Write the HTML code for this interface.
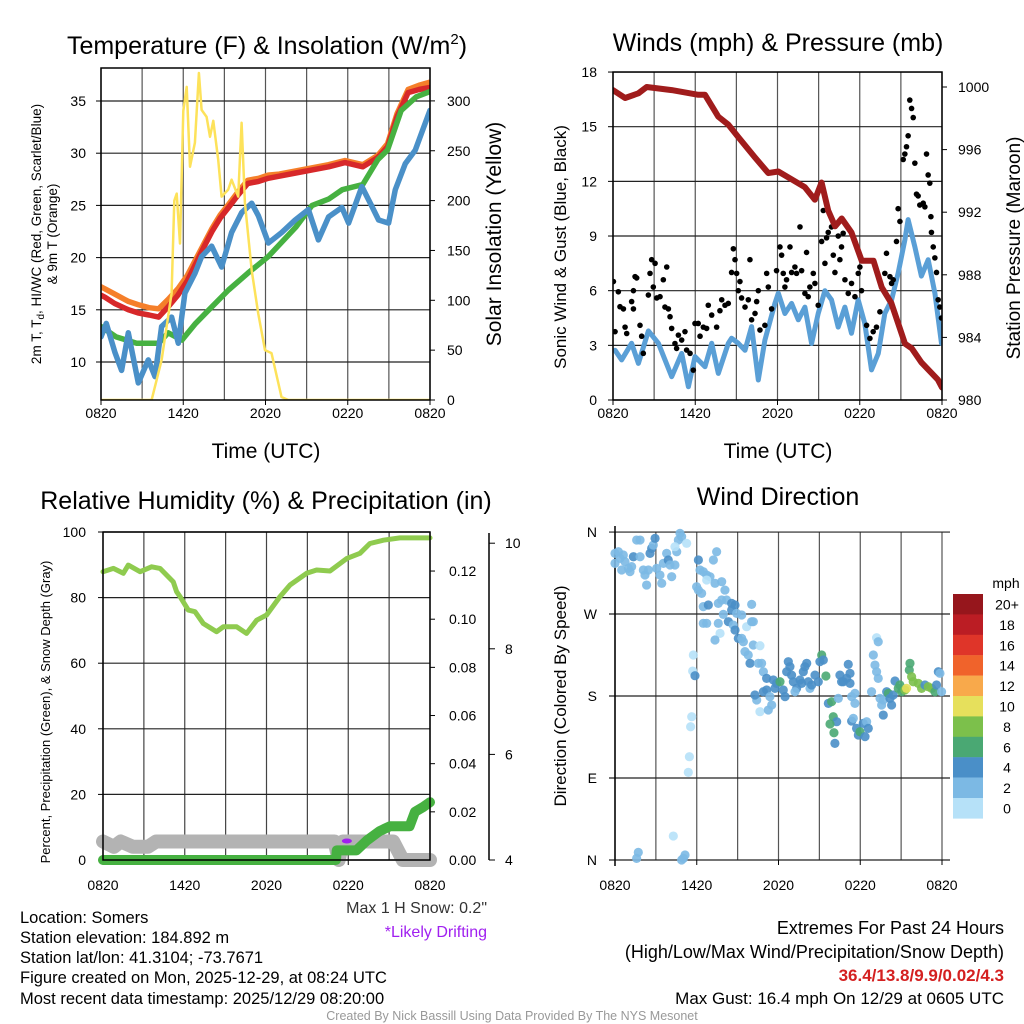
<!DOCTYPE html>
<html><head><meta charset="utf-8">
<style>
html,body{margin:0;padding:0;background:#fff;}
svg{display:block;font-family:"Liberation Sans",Arial,sans-serif;}
</style></head>
<body>
<svg id="chart" width="1024" height="1024" viewBox="0 0 1024 1024" xmlns="http://www.w3.org/2000/svg">
<defs>
<clipPath id="c1"><rect x="101" y="68" width="329" height="332"/></clipPath>
<clipPath id="c2"><rect x="613" y="72" width="329" height="328"/></clipPath>
<clipPath id="c3"><rect x="96" y="525" width="345" height="345"/></clipPath>
<clipPath id="c4"><rect x="608" y="526" width="342" height="340"/></clipPath>
</defs>
<g id="g1"></g>
<g id="g2"></g>
<g id="g3"></g>
<g id="g4"></g>
<g id="gt">
<text x="20" y="923" font-size="16.5">Location: Somers</text>
<text x="20" y="943" font-size="16.5">Station elevation: 184.892 m</text>
<text x="20" y="963" font-size="16.5">Station lat/lon: 41.3104; -73.7671</text>
<text x="20" y="983" font-size="16.5">Figure created on Mon, 2025-12-29, at 08:24 UTC</text>
<text x="20" y="1004" font-size="16.5">Most recent data timestamp: 2025/12/29 08:20:00</text>
<text x="487" y="913" font-size="16" text-anchor="end" fill="#333">Max 1 H Snow: 0.2"</text>
<text x="487" y="937" font-size="16" text-anchor="end" fill="#a020f0">*Likely Drifting</text>
<text x="1004" y="934" font-size="18" text-anchor="end">Extremes For Past 24 Hours</text>
<text x="1004" y="958" font-size="18" text-anchor="end">(High/Low/Max Wind/Precipitation/Snow Depth)</text>
<text x="1004" y="981" font-size="17" text-anchor="end" fill="#d42020" font-weight="bold">36.4/13.8/9.9/0.02/4.3</text>
<text x="1004" y="1004" font-size="17" text-anchor="end">Max Gust: 16.4 mph On 12/29 at 0605 UTC</text>
<text x="512" y="1020" font-size="12.5" text-anchor="middle" fill="#999">Created By Nick Bassill Using Data Provided By The NYS Mesonet</text>
</g>
</svg>
<script>
// ---------- Panel 1 data ----------
const tempTimes = [0,0.3,1,2,2.7,3.5,4.2,4.9,5.6,6.3,6.9,7.5,8.1,8.7,9.3,10,10.7,11.5,12.2,13,14.2,15.4,16.6,17.8,19.1,20.2,20.9,21.6,22.4,23.2,24];
const tempRed = [16.4,16.2,15.6,15,14.7,14.5,14.3,15.3,16.4,17.8,19.4,21,22.5,23.8,24.8,26,27.1,27.3,27.6,27.8,28.1,28.4,28.7,29.1,28.7,29.6,30.6,33.5,35.8,36.1,36.3];
const tempOrange = [17.2,17,16.5,15.8,15.5,15.2,15.1,16.0,17.0,18.3,19.8,21.3,22.8,24.1,25.1,26.3,27.4,27.6,27.9,28.0,28.3,28.6,28.9,29.3,28.9,29.8,30.9,33.8,36.1,36.5,36.8];
const greenTimes = [0,1.1,2.6,4.2,4.9,5.9,6.9,8.1,9.3,10.7,12.2,14.2,15.4,16.6,17.6,19.1,20.2,20.9,21.9,23,24];
const tempGreen = [13.4,12.4,11.8,11.8,12.8,12.1,13.7,15.3,16.9,18.5,20.1,22.9,25,25.6,26.5,27,29.4,30.3,34.1,35.4,35.9];
const blueTimes = [0,0.39,1.02,1.5,1.99,2.72,3.45,3.94,4.42,5.15,5.64,6.12,6.86,7.34,8.07,8.8,9.53,10.26,10.99,11.48,12.21,13.18,14.16,15.13,15.86,16.6,17.57,18.06,19.03,19.76,20.25,20.98,21.47,22.2,22.93,23.66,24];
const tempBlue = [12.4,13.7,10.9,9.2,12.8,8,10.2,8.6,13.4,14.3,11.8,16.6,18.5,20.1,21.1,19.1,22.4,24.3,25.2,24,21.4,22.4,23.6,24.6,21.7,23.9,24.8,23.3,26.8,24.9,23.6,23.3,26.5,29,30.3,32.9,34.1];
const solarTimes = [0,3.69,4.42,5.15,5.35,5.52,5.76,6.0,6.25,6.49,6.85,7.14,7.34,7.7,7.95,8.19,8.55,8.8,9.28,9.53,10.01,10.26,10.5,10.99,11.47,11.96,12.44,13.17,13.66,24];
const solarVals = [0,0,40,107,200,207,157,290,314,234,258,328,291,284,264,280,241,204,211,221,204,278,198,130,87,50,47,3,0,0];
const tempTicks = [10,15,20,25,30,35];
const solarTicks = [0,50,100,150,200,250,300];
const timeTickHours = [0,6,12,18,24];
const timeTickLabels = ["0820","1420","2020","0220","0820"];

// ---------- Panel 2 data ----------
const presTimes = [0,0.88,1.85,2.46,4.28,6.22,6.71,7.68,8.41,9.14,10.35,11.33,12.06,13.03,14,14.73,15.22,15.7,16.2,16.68,17.4,18.14,19,19.6,20.3,21.3,21.8,22.5,23.7,24];
const presVals = [999.8,999.3,999.6,1000,999.8,999.5,999.5,998.1,997.6,996.8,995.5,994.5,994.6,994.1,993.6,992.8,993.9,992.1,991.1,991.6,990.7,988.9,988.9,987.2,986.2,983.6,983.3,982.4,981.3,980.8];
const windTimes = [0.15,0.63,1.36,1.85,2.58,3.31,4.28,5.01,5.5,5.98,6.71,7.2,7.68,8.41,8.65,9.14,9.63,10.11,10.6,11.08,11.81,12.06,12.54,13.03,13.52,14,14.49,14.97,15.46,15.94,16.43,16.92,17.4,17.89,18.37,18.86,19.35,19.83,20.32,20.8,21.29,21.53,22.02,22.5,22.99,23.48,23.96];
const windVals = [2.73,2.2,3.11,2.01,3.79,3.11,1.28,2.56,0.73,2.38,1.83,3.11,1.46,3.11,3.39,3.11,2.73,4.03,1.1,3.29,5.3,5.86,4.75,5.3,4.4,5.1,3.1,4.75,6.0,5.5,4.0,5.1,3.66,5.5,4.2,1.65,2.56,4.75,5.5,6.95,8.8,9.9,8.4,6.8,7.7,5.86,3.1];
const gustTimes = [0.03,0.15,0.39,0.51,0.76,0.88,1.0,1.36,1.49,1.61,1.73,1.49,1.97,2.09,2.21,2.58,2.7,2.82,3.07,2.94,3.19,3.43,3.67,3.79,3.92,4.04,4.16,4.28,4.52,4.64,4.77,5.01,5.25,5.37,5.62,5.86,5.98,6.22,6.35,6.59,6.83,6.95,7.2,7.56,7.8,7.93,8.17,8.41,8.65,8.78,8.9,9.02,9.14,9.26,9.38,9.63,9.87,9.99,10.11,10.36,10.48,10.6,10.72,11.08,11.21,11.33,11.57,11.93,12.18,12.3,12.42,12.54,12.66,12.91,13.03,13.27,13.39,13.64,13.76,14.0,14.12,14.24,14.36,14.61,14.73,14.97,15.22,15.34,15.46,15.58,15.7,15.94,16.07,16.19,16.43,16.55,16.67,16.79,16.92,17.16,17.4,17.65,17.89,18.01,18.13,18.5,18.74,18.98,19.22,19.47,19.83,19.95,20.2,20.32,20.44,20.68,20.8,20.93,21.17,21.29,21.41,21.53,21.65,21.78,21.9,22.02,22.14,22.26,22.38,22.63,22.75,22.87,22.99,23.11,23.19,23.23,23.36,23.48,23.6,23.72,23.84,23.96];
const gustVals = [6.5,3.75,5.94,5.12,5.0,4.0,3.65,5.4,5.0,6.77,6.7,6.0,4.1,3.5,2.56,5.76,6.95,7.7,7.5,6.2,5.6,5.67,6.6,5.1,7.3,5.0,4.57,3.93,3.1,2.83,3.56,3.29,3.75,2.74,2.56,1.64,4.2,4.2,3.5,4.0,3.93,5.2,4.66,4.0,4.9,5.5,5.2,5.3,7.0,8.3,7.7,6.95,6.0,6.5,5.6,5.1,5.5,7.7,4.4,4.75,5.4,6.0,3.84,4.1,6.95,6.2,5.0,7.1,8.4,7.95,6.95,6.2,6.6,8.4,7.0,7.3,6.95,9.5,7.1,5.85,8.1,5.67,6.2,6.95,6.4,5.2,8.7,10.4,7.5,8.9,9.2,9.5,7.95,7.0,9.0,7.7,8.4,9.15,6.6,5.85,6.4,5.67,6.95,7.3,6.0,4.1,3.38,3.75,4.0,4.84,6.95,8.05,6.77,6.4,6.6,8.7,10.5,9.8,13.2,13.5,13.9,14.5,16.46,16.0,15.5,13.0,11.3,11.2,10.7,10.8,10.6,13.5,12.35,11.9,10.06,9.2,8.4,7.8,7.0,5.5,5.1,4.5];
const windTicks = [0,3,6,9,12,15,18];
const presTicks = [980,984,988,992,996,1000];

// ---------- Panel 3 data ----------
const rhTimes = [0,0.76,1.49,1.86,2.72,3.57,4.18,5.16,5.4,5.65,6.26,6.75,7.36,8.34,8.83,9.81,10.54,11.28,12.01,12.99,13.72,14.94,15.68,16.66,17.88,18.86,19.59,20.57,21.79,24];
const rhVals = [87.9,88.9,87.4,89.9,87.9,89.4,88.9,84.8,81.8,80.3,76.2,75.7,72.1,69.6,71.1,71.1,69.1,73.1,74.7,80.3,83.8,87.4,88.4,88.1,91.9,93.5,96.5,97.5,98.2,98.2];
const precipTimes = [0,17.1,17.15,17.64,18.6,19.35,20.3,21.06,22.5,22.9,23.5,24];
const precipVals = [0,0,0.004,0.004,0.004,0.008,0.012,0.014,0.014,0.02,0.022,0.024];
const snowTimes = [0,0.8,1.3,2.2,3.3,3.9,17.0,17.3,17.6,17.9,21.3,22.0,24];
const snowVals = [4.35,4.25,4.35,4.25,4.25,4.35,4.35,4.0,4.35,4.35,4.35,4.0,4.0];
const driftTimes = [17.9];
const driftVals = [4.36];
const rhTicks = [0,20,40,60,80,100];
const precipTicks = [0,0.02,0.04,0.06,0.08,0.10,0.12];
const precipTickLabels = ["0.00","0.02","0.04","0.06","0.08","0.10","0.12"];
const snowTicks = [4,6,8,10];

// ---------- Panel 4 data ----------
const dirTimes = [0,0,0.25,0.37,0.49,0.61,0.73,0.98,1.1,1.22,1.35,1.59,1.84,1.84,2.08,2.2,2.32,2.45,2.57,2.69,2.81,2.94,3.06,3.3,3.43,3.55,3.79,3.91,4.04,4.16,4.4,4.53,4.65,4.77,4.89,4.4,5.26,6.12,6.24,6.48,6.73,6.97,6.73,7.34,7.46,7.22,5.99,6.12,6.36,7.83,8.07,6.48,6.85,7.58,7.83,8.19,8.56,8.81,8.56,8.93,9.3,10.03,7.95,8.32,8.68,8.81,6.48,6.73,7.58,7.71,7.34,9.66,10.03,10.15,9.05,9.3,9.42,9.54,10.15,9.78,9.91,10.52,10.64,10.76,10.89,11.13,11.62,11.74,11.13,11.86,12.11,12.35,12.48,12.72,12.84,12.6,12.96,13.09,13.33,13.58,13.7,13.82,13.94,14.07,14.19,14.31,14.43,14.68,14.92,15.04,15.17,15.29,15.48,16.51,16.63,16.76,17.0,17.12,17.25,17.25,10.4,10.27,10.64,11.25,11.5,10.89,11.37,13.21,15.66,15.9,16.39,17.37,17.61,17.61,16.02,16.27,15.78,16.07,16.14,17.37,17.49,17.73,17.86,17.98,18.22,18.47,18.59,18.35,18.83,18.96,19.08,19.2,19.32,19.2,19.32,19.45,19.69,19.57,19.69,19.94,20.06,20.18,20.3,20.42,20.55,20.79,20.91,21.04,21.28,21.4,21.65,21.6,21.77,21.89,22.26,22.5,22.75,22.99,23.24,23.48,23.6,23.73,23.85,23.97,5.75,5.7,5.87,5.63,5.55,5.46,5.38,4.28,1.71,1.59,4.89,5.14,5.02];
const dirDegs = [336.6,325.6,338.4,331.1,318.3,334.8,327.5,320.1,316.5,322,332.9,351.2,351.2,332.9,318.3,312.8,301.8,318.3,336.6,342.1,345.7,353.1,320.1,312.8,303.7,325.6,336.6,329.3,323.8,311,323.8,338.4,351.2,358.6,354.9,343.9,347.6,329.3,318.3,316.5,312.8,311,307.3,303.7,338.4,329.3,300,296.3,292.7,305.5,296.3,278.1,279.9,281.7,285.4,285.4,281.7,279.9,274.4,270.7,268.9,280.6,269.6,261.6,257.9,252.4,259.8,259.8,259.8,248.8,241.5,256.1,261.6,261.6,243.3,243.3,239.6,228.7,236,225,215.9,215.9,235.2,215.9,206.7,199.4,197.6,188.4,186.6,193.9,195.7,186.6,179.3,217.7,212.2,206.7,203,195.7,188.4,197.6,193.9,206.7,212.2,215.9,195.7,188.4,192.1,203,195.7,217.7,225,219.5,202,203,195.7,195.7,199.4,214.7,204.9,193.9,175.6,181.1,162.8,164.6,170.1,184.7,179.3,184.7,171.9,173.8,177.4,179.3,182.9,171.9,157.3,151.8,149.3,139.7,128,152.5,155.5,144.5,137.2,140.8,150,151.8,144.5,135.4,184.7,225,214,206.7,199.4,244,239.6,177.4,175.6,170.1,159.1,184.7,182.9,177.4,170.1,181.1,196.5,188.4,192.1,184.7,186.6,188.4,215.9,208.5,201.2,195.7,193.9,188.4,192.1,190.2,188.4,184.7,192.1,206.7,204.9,184.7,225,207.4,202.3,157.3,146.3,113.4,96.2,26.3,8.4,1.8,0,5.5,1.8];
const dirSpeeds = [2,2,2,2,2,2,2,2,2,2,4,2,2,2,2,2,2,2,4,4,2,4,2,2,2,2,2,4,2,2,2,2,2,2,2,0,0,4,2,2,2,2,0,2,2,2,2,2,2,2,2,2,4,2,2,2,4,4,4,2,2,2,2,4,2,4,2,2,2,0,2,0,2,2,4,2,2,2,2,2,4,2,0,2,2,4,4,4,4,4,6,4,4,4,4,4,4,4,4,4,4,4,4,4,4,2,4,4,4,4,6,4,6,4,4,4,4,4,4,4,2,4,0,2,2,4,2,2,4,6,2,2,2,2,6,4,6,6,4,4,2,4,4,6,4,2,4,4,2,2,2,2,2,0,2,2,2,2,4,4,6,4,4,4,4,6,6,6,8,10,6,6,8,8,8,8,4,8,8,6,4,4,2,2,0,0,4,0,0,0,0,0,2,2,2,2,2];
const dirTicks = [0,90,180,270,360];
const dirTickLabels = ["N","E","S","W","N"];
const cbarLabels = ["20+","18","16","14","12","10","8","6","4","2","0"];
const cbarColors = ["#96161c","#bb1d24","#df3529","#f0632b","#f8a94b","#e6e05c","#7cc04b","#4aa873","#4a8fc8","#7cb9e4","#b6e1f8"];

// ---------- helpers ----------
const NS = "http://www.w3.org/2000/svg";
function mk(parent, tag, attrs){
  const e = document.createElementNS(NS, tag);
  for (const k in attrs) e.setAttribute(k, attrs[k]);
  parent.appendChild(e);
  return e;
}
function txt(parent, x, y, s, size, anchor, extra){
  const e = mk(parent, "text", Object.assign({x:x, y:y, "font-size":size, "text-anchor":anchor||"start"}, extra||{}));
  e.textContent = s;
  return e;
}
function linePath(times, vals, xf, yf){
  let d = "";
  for (let i=0;i<times.length;i++){ d += (i?"L":"M") + xf(times[i]).toFixed(1) + "," + yf(vals[i]).toFixed(1); }
  return d;
}

// ---------- Panel 1 ----------
(function(){
  const g = document.getElementById("g1");
  const X0=101, X1=430, Y0=68, Y1=400;
  const xS = t => X0 + t*(X1-X0)/24;
  const yT = v => 362 - (v-10)*10.44;
  const yS = v => 400 - v*0.997;
  for (let h=0; h<=24; h+=3){
    const l = mk(g,"line",{x1:xS(h),x2:xS(h),y1:Y0,y2:Y1,stroke:"#555","stroke-width":1.2});
    
    
  }
  tempTicks.forEach(v=>{
    const l = mk(g,"line",{x1:X0,x2:X1,y1:yT(v),y2:yT(v),stroke:"#222","stroke-width":1.2});
    
    
    mk(g,"line",{x1:X0-5,x2:X0,y1:yT(v),y2:yT(v),stroke:"#000"});
    const t = txt(g, 86, yT(v)+5, String(v), 14, "end");
    
    
  });
  solarTicks.forEach(v=>{
    mk(g,"line",{x1:X1,x2:X1+5,y1:yS(v),y2:yS(v),stroke:"#000"});
    const t = txt(g, 447, yS(v)+5, String(v), 14, "start");
    
    
  });
  timeTickHours.forEach((h,i)=>{
    mk(g,"line",{x1:xS(h),x2:xS(h),y1:Y1,y2:Y1+5,stroke:"#000"});
    const t = txt(g, xS(h), 418, timeTickLabels[i], 14, "middle");
    
    
  });
  const cg = mk(g,"g",{"clip-path":"url(#c1)"});
  const series = [
    [tempTimes,tempOrange,"#f57f2a","orange-9m-temp-line"],
    [tempTimes,tempRed,"#d7282a","red-2m-temp-line"],
    [greenTimes,tempGreen,"#46b141","green-hiwc-line"],
    [blueTimes,tempBlue,"#4a90c8","blue-dewpoint-line"]
  ];
  series.forEach(s=>{
    const p = mk(cg,"path",{d:linePath(s[0],s[1],xS,yT),fill:"none",stroke:s[2],"stroke-width":5.5,"stroke-linejoin":"round","stroke-linecap":"round"});
    
    
  });
  const sp = mk(cg,"path",{d:linePath(solarTimes,solarVals,xS,yS),fill:"none",stroke:"#fde25a","stroke-width":2.5,"stroke-linejoin":"round"});
  
  
  mk(g,"rect",{x:X0,y:Y0,width:X1-X0,height:Y1-Y0,fill:"none",stroke:"#000","stroke-width":1.5});
  const ti = mk(g,"text",{x:267,y:54,"font-size":25,"text-anchor":"middle"});
  ti.innerHTML = 'Temperature (F) &amp; Insolation (W/m<tspan font-size="15" dy="-10">2</tspan><tspan dy="10">)</tspan>';
  
  
  const xl = txt(g, 266, 458, "Time (UTC)", 21, "middle");
  
  
  const yl = mk(g,"text",{transform:"translate(41,234) rotate(-90)","font-size":13.5,"text-anchor":"middle"});
  yl.innerHTML = '2m T, T<tspan font-size="10" dy="3">d</tspan><tspan dy="-3">, HI/WC (Red, Green, Scarlet/Blue)</tspan>';
  
  
  const yl2 = txt(g,0,0,"& 9m T (Orange)",13.5,"middle",{transform:"translate(57,234) rotate(-90)"});
  
  
  const yr = txt(g,0,0,"Solar Insolation (Yellow)",21,"middle",{transform:"translate(501,234) rotate(-90)"});
  
  
})();

// ---------- Panel 2 ----------
(function(){
  const g = document.getElementById("g2");
  const X0=613, X1=942, Y0=72, Y1=400;
  const xS = t => X0 + t*(X1-X0)/24;
  const yW = v => 400 - v*18.22;
  const yP = v => 400 - (v-980)*15.65;
  for (let h=0; h<=24; h+=3){
    const l = mk(g,"line",{x1:xS(h),x2:xS(h),y1:Y0,y2:Y1,stroke:"#555","stroke-width":1.2});
    
    
  }
  windTicks.forEach(v=>{
    const l = mk(g,"line",{x1:X0,x2:X1,y1:yW(v),y2:yW(v),stroke:"#222","stroke-width":1.2});
    
    
    mk(g,"line",{x1:X0-5,x2:X0,y1:yW(v),y2:yW(v),stroke:"#000"});
    const t = txt(g, 597, yW(v)+5, String(v), 14, "end");
    
    
  });
  presTicks.forEach(v=>{
    mk(g,"line",{x1:X1,x2:X1+5,y1:yP(v),y2:yP(v),stroke:"#000"});
    const t = txt(g, 958, yP(v)+5, String(v), 14, "start");
    
    
  });
  timeTickHours.forEach((h,i)=>{
    mk(g,"line",{x1:xS(h),x2:xS(h),y1:Y1,y2:Y1+5,stroke:"#000"});
    const t = txt(g, xS(h), 418, timeTickLabels[i], 14, "middle");
    
    
  });
  const cg = mk(g,"g",{"clip-path":"url(#c2)"});
  const wp = mk(cg,"path",{d:linePath(windTimes,windVals,xS,yW),fill:"none",stroke:"#5a9fd6","stroke-width":5,"stroke-linejoin":"round","stroke-linecap":"round"});
  
  
  for (let i=0;i<gustTimes.length;i++){
    const c = mk(cg,"circle",{cx:xS(gustTimes[i]),cy:yW(gustVals[i]),r:2.8,fill:"#000"});
    
    
  }
  const pp = mk(cg,"path",{d:linePath(presTimes,presVals,xS,yP),fill:"none",stroke:"#a01c1c","stroke-width":6,"stroke-linejoin":"round","stroke-linecap":"round"});
  
  
  mk(g,"rect",{x:X0,y:Y0,width:X1-X0,height:Y1-Y0,fill:"none",stroke:"#000","stroke-width":1.5});
  const ti = txt(g, 778, 51, "Winds (mph) & Pressure (mb)", 25, "middle");
  
  
  const xl = txt(g, 778, 458, "Time (UTC)", 21, "middle");
  
  
  const yl = txt(g,0,0,"Sonic Wind & Gust (Blue, Black)",17,"middle",{transform:"translate(566,247) rotate(-90)"});
  
  
  const yr = txt(g,0,0,"Station Pressure (Maroon)",19,"middle",{transform:"translate(1020,248) rotate(-90)"});
  
  
})();

// ---------- Panel 3 ----------
(function(){
  const g = document.getElementById("g3");
  const X0=103, X1=430, Y0=532, Y1=860;
  const xS = t => X0 + t*(X1-X0)/24;
  const yR = v => 860 - v*3.28;
  const yPr = v => 860 - v*2408;
  const ySn = v => 860 - (v-4)*52.8;
  for (let h=0; h<=24; h+=3){
    const l = mk(g,"line",{x1:xS(h),x2:xS(h),y1:Y0,y2:Y1,stroke:"#444","stroke-width":1.2});
    
    
  }
  rhTicks.forEach(v=>{
    const l = mk(g,"line",{x1:X0,x2:X1,y1:yR(v),y2:yR(v),stroke:"#222","stroke-width":1.2});
    
    
    mk(g,"line",{x1:X0-5,x2:X0,y1:yR(v),y2:yR(v),stroke:"#000"});
    const t = txt(g, 86, yR(v)+5, String(v), 14, "end");
    
    
  });
  precipTicks.forEach((v,i)=>{
    mk(g,"line",{x1:X1,x2:X1+5,y1:yPr(v),y2:yPr(v),stroke:"#000"});
    const t = txt(g, 449, yPr(v)+5, precipTickLabels[i], 14, "start");
    
    
  });
  const sa = mk(g,"line",{x1:489,x2:489,y1:533,y2:860,stroke:"#000","stroke-width":1.5});
  
  
  snowTicks.forEach(v=>{
    mk(g,"line",{x1:489,x2:495,y1:ySn(v),y2:ySn(v),stroke:"#000"});
    const t = txt(g, 505, ySn(v)+5, String(v), 14, "start");
    
    
  });
  timeTickHours.forEach((h,i)=>{
    mk(g,"line",{x1:xS(h),x2:xS(h),y1:Y1,y2:Y1+5,stroke:"#000"});
    const t = txt(g, xS(h), 890, timeTickLabels[i], 14, "middle");
    
    
  });
  const cg = mk(g,"g",{"clip-path":"url(#c3)"});
  const sn = mk(cg,"path",{d:linePath(snowTimes,snowVals,xS,ySn),fill:"none",stroke:"#b3b3b3","stroke-width":14,"stroke-linejoin":"round","stroke-linecap":"round"});
  
  
  const pr = mk(cg,"path",{d:linePath(precipTimes,precipVals,xS,yPr),fill:"none",stroke:"#46b141","stroke-width":10,"stroke-linejoin":"round","stroke-linecap":"round"});
  
  
  const rh = mk(cg,"path",{d:linePath(rhTimes,rhVals,xS,yR),fill:"none",stroke:"#8fcb4f","stroke-width":5,"stroke-linejoin":"round","stroke-linecap":"round"});
  
  
  driftTimes.forEach((t,i)=>{
    const e = mk(cg,"ellipse",{cx:xS(t),cy:ySn(driftVals[i]),rx:5,ry:2.5,fill:"#a020f0"});
    
    
  });
  mk(g,"rect",{x:X0,y:Y0,width:X1-X0,height:Y1-Y0,fill:"none",stroke:"#000","stroke-width":1.5});
  const ti = txt(g, 266, 509, "Relative Humidity (%) & Precipitation (in)", 25, "middle");
  
  
  const yl = txt(g,0,0,"Percent, Precipitation (Green), & Snow Depth (Gray)",13,"middle",{transform:"translate(50,712) rotate(-90)"});
  
  
})();

// ---------- Panel 4 ----------
(function(){
  const g = document.getElementById("g4");
  const X0=615, X1=942, Y0=532, Y1=860;
  const xS = t => X0 + t*(X1-X0)/24;
  const yD = v => 860 - v*0.911;
  for (let h=0; h<=24; h+=3){
    const l = mk(g,"line",{x1:xS(h),x2:xS(h),y1:Y0,y2:Y1,stroke:"#555","stroke-width":1.2});
    
    
  }
  dirTicks.forEach((v,i)=>{
    const l = mk(g,"line",{x1:609,x2:950,y1:yD(v),y2:yD(v),stroke:"#222","stroke-width":1.2});
    
    
    const t = txt(g, 597, yD(v)+5, dirTickLabels[i], 14, "end");
    
    
  });
  timeTickHours.forEach((h,i)=>{
    mk(g,"line",{x1:xS(h),x2:xS(h),y1:Y1,y2:Y1+5,stroke:"#000"});
    const t = txt(g, xS(h), 890, timeTickLabels[i], 14, "middle");
    
    
  });
  mk(g,"line",{x1:X0,x2:X0,y1:526,y2:866,stroke:"#000","stroke-width":1.5});
  const cg = mk(g,"g",{"clip-path":"url(#c4)"});
  function colorFor(s){
    let idx = Math.round(s/2);
    if (idx>10) idx=10;
    if (idx<0) idx=0;
    return cbarColors[10-idx];
  }
  for (let i=0;i<dirTimes.length;i++){
    const c = mk(cg,"circle",{cx:xS(dirTimes[i]),cy:yD(dirDegs[i]),r:4.6,fill:colorFor(dirSpeeds[i]),"fill-opacity":0.9});
    
    
  }
  const ti = txt(g, 778, 505, "Wind Direction", 25, "middle");
  
  
  const yl = txt(g,0,0,"Direction (Colored By Speed)",17,"middle",{transform:"translate(566,696) rotate(-90)"});
  
  
  const u = txt(g, 1006, 588, "mph", 14, "middle");
  
  
  cbarLabels.forEach((lab,i)=>{
    const r = mk(g,"rect",{x:953,y:594+i*20.4,width:30,height:20.6,fill:cbarColors[i]});
    
    
    const t = txt(g, 1007, 594+i*20.4+15.5, lab, 14, "middle");
    
    
  });
})();
</script>
</body></html>
